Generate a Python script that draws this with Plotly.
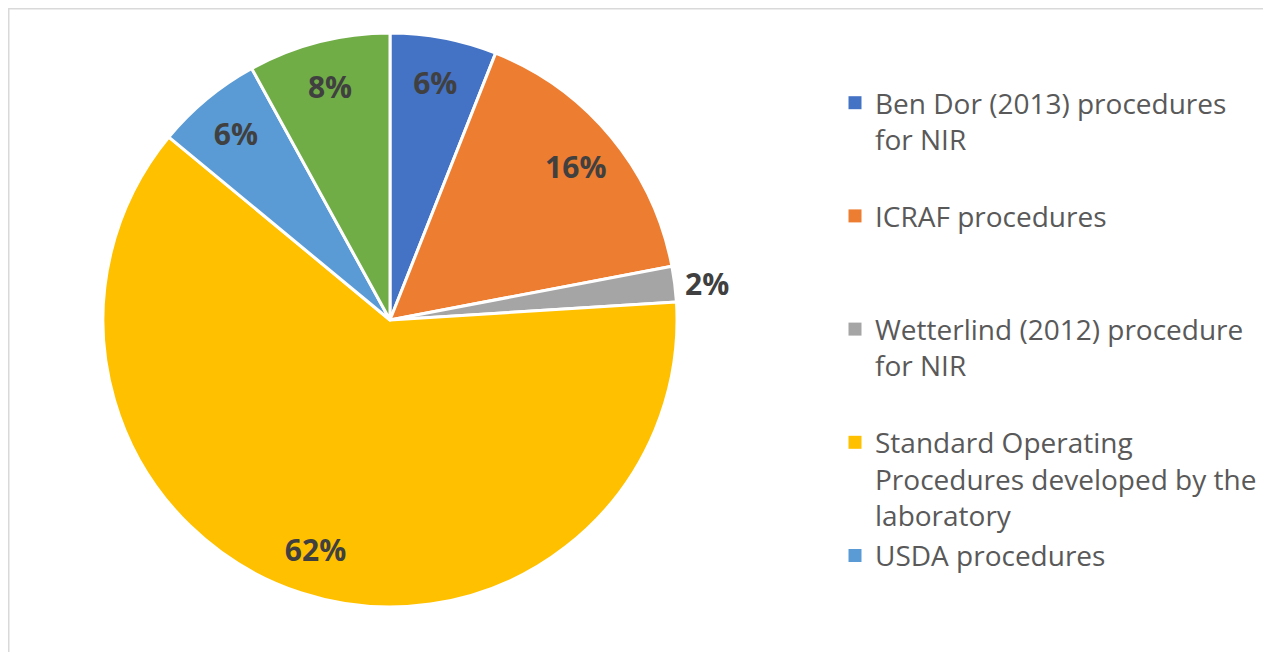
import plotly.graph_objects as go

# number of laboratories per procedure (out of 50)
labels = [
    "Ben Dor (2013) procedures for NIR",
    "ICRAF procedures",
    "Wetterlind (2012) procedure for NIR",
    "Standard Operating Procedures developed by the laboratory",
    "USDA procedures",
    "Other",
]
counts = [3, 8, 1, 31, 3, 4]
colors = ["#4472C4", "#ED7D31", "#A5A5A5", "#FFC000", "#5B9BD5", "#70AD47"]
text_pos = ["inside", "inside", "outside", "inside", "inside", "inside"]

# legend text as wrapped in the original (the 6th entry is cut off there)
legend_names = [
    "Ben Dor (2013) procedures<br>for NIR<br> ",
    "ICRAF procedures<br> <br> ",
    "Wetterlind (2012) procedure<br>for NIR<br> ",
    "Standard Operating<br>Procedures developed by the<br>laboratory",
    "USDA procedures",
]

# page has an 8px body margin, so work in figure pixels = screen - 8
W, H = 1255, 644
cx, cy, r = 382, 312, 287
dom = dict(x=[(cx - r) / W, (cx + r) / W], y=[1 - (cy + r) / H, 1 - (cy - r) / H])

fig = go.Figure()
# the slices
fig.add_pie(
    labels=labels, values=counts, sort=False,
    direction="clockwise", rotation=0,
    marker=dict(colors=colors, line=dict(color="white", width=3)),
    textinfo="none", showlegend=False, domain=dom,
    hoverinfo="label+percent",
)
# transparent ring on top so the percentages sit near the rim, as in Excel
fig.add_pie(
    labels=labels, values=counts, sort=False,
    direction="clockwise", rotation=0, hole=0.68,
    marker=dict(colors=["rgba(0,0,0,0)"] * len(counts), line=dict(width=0)),
    texttemplate="%{percent:.0%}",
    textposition=text_pos,
    insidetextorientation="horizontal",
    textfont=dict(family="Open Sans", size=30, color="#404040", weight="bold"),
    showlegend=False, domain=dom, hoverinfo="skip",
)

for name, col in zip(legend_names, colors):
    fig.add_scatter(
        x=[None], y=[None], mode="markers", name=name, legendgroup=name,
        marker=dict(symbol="square", size=13, color=col),
    )

fig.update_layout(
    width=W, height=H,
    margin=dict(l=0, r=0, t=0, b=0),
    paper_bgcolor="white", plot_bgcolor="white",
    font=dict(family="Open Sans", color="#595959"),
    xaxis=dict(visible=False), yaxis=dict(visible=False),
    legend=dict(
        x=827 / W, y=1 - 70 / H, xanchor="left", yanchor="top",
        font=dict(size=28, color="#595959"),
        valign="top", tracegroupgap=1, bgcolor="rgba(0,0,0,0)",
        maxheight=900,
    ),
    # chart-area border: only its left and top edges are in view
    shapes=[
        dict(type="line", xref="paper", yref="paper", x0=0, x1=0, y0=0, y1=1,
             line=dict(color="#D9D9D9", width=3), layer="below"),
        dict(type="line", xref="paper", yref="paper", x0=0, x1=1, y0=1, y1=1,
             line=dict(color="#D9D9D9", width=3), layer="below"),
    ],
)

fig.write_html("out.html")
